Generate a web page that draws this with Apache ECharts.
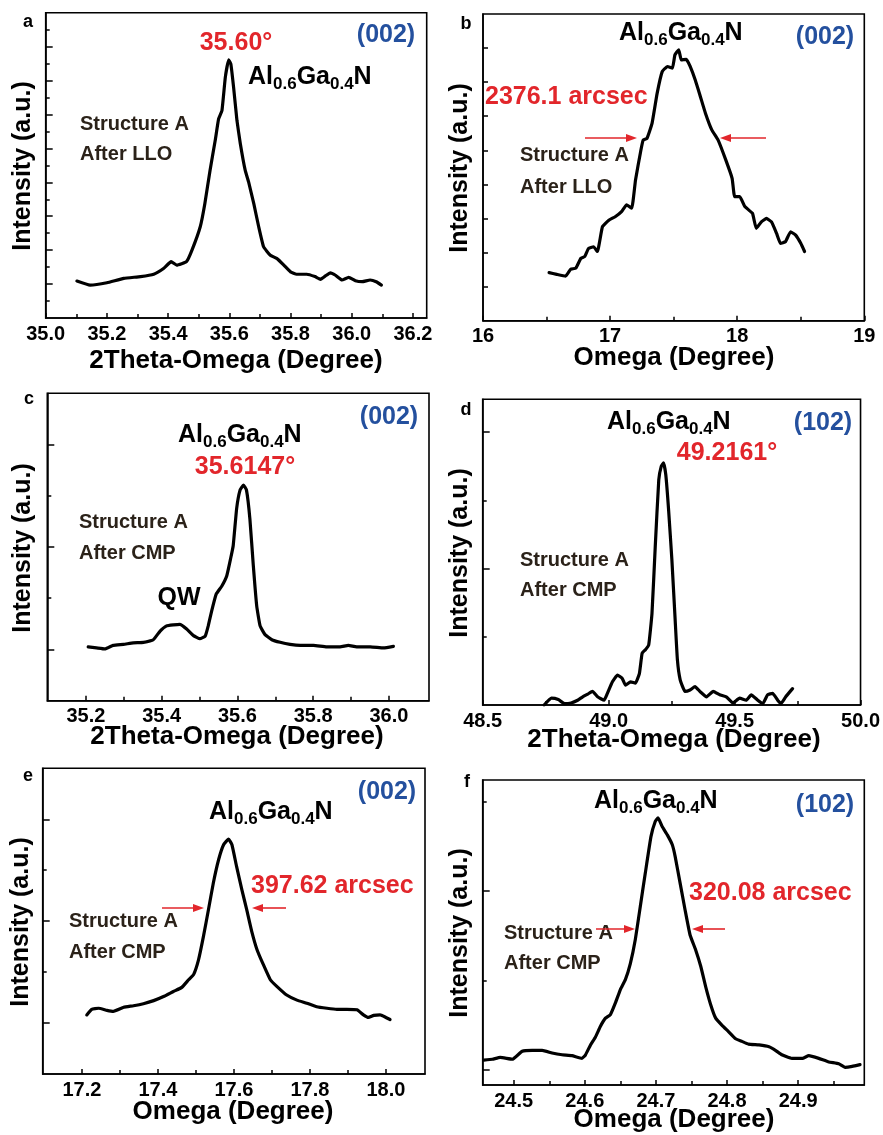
<!DOCTYPE html>
<html><head><meta charset="utf-8">
<script src="https://cdn.jsdelivr.net/npm/echarts@6/dist/echarts.min.js"></script>
<style>html,body{margin:0;padding:0;background:#fff}#c{width:883px;height:1135px}</style>
</head><body><div id="c"></div><script>
// ---------- data ----------
const aX = [35.102,35.145,35.2,35.255,35.31,35.353,35.385,35.41,35.428,35.46,35.478,35.505,35.52,35.537,35.554,35.565,35.576,35.587,35.598,35.605,35.614,35.625,35.636,35.652,35.663,35.68,35.696,35.712,35.734,35.756,35.778,35.8,35.82,35.853,35.88,35.898,35.914,35.93,35.947,35.968,35.99,36.012,36.034,36.06,36.08,36.097];
const aY = [1.09,0.97,1.04,1.17,1.22,1.29,1.46,1.66,1.56,1.66,2.0,2.69,3.37,4.35,5.24,5.87,6.12,7.1,7.61,7.49,6.8,5.82,5.14,4.35,4.01,3.37,2.69,2.1,1.85,1.75,1.56,1.36,1.29,1.29,1.22,1.14,1.24,1.33,1.26,1.12,1.2,1.1,1.07,1.12,1.07,0.97];

const bX = [16.52,16.58,16.65,16.69,16.73,16.77,16.8,16.83,16.87,16.9,16.94,16.99,17.04,17.09,17.13,17.17,17.2,17.24,17.26,17.29,17.33,17.37,17.41,17.45,17.49,17.51,17.54,17.56,17.6,17.63,17.67,17.71,17.75,17.8,17.85,17.91,17.96,17.98,18.02,18.06,18.12,18.15,18.19,18.23,18.27,18.31,18.34,18.38,18.42,18.46,18.5,18.53];
const bY = [1.41,1.36,1.31,1.51,1.54,1.83,1.88,2.12,2.17,2.03,2.76,2.95,3.05,3.2,3.4,3.3,4.13,4.96,5.3,5.35,5.79,6.67,7.31,7.46,7.41,7.8,7.95,7.65,7.67,7.46,7.06,6.58,6.09,5.6,5.3,4.72,4.18,3.64,3.64,3.35,3.15,2.71,2.9,3.0,2.9,2.56,2.27,2.32,2.61,2.51,2.27,2.03];

const cX = [35.206,35.228,35.25,35.272,35.299,35.325,35.352,35.378,35.396,35.413,35.431,35.448,35.466,35.484,35.501,35.515,35.523,35.532,35.544,35.559,35.572,35.582,35.589,35.598,35.607,35.616,35.624,35.633,35.642,35.651,35.66,35.673,35.691,35.713,35.739,35.766,35.801,35.836,35.871,35.893,35.915,35.951,35.986,36.012];
const cY = [1.05,1.03,1.01,1.08,1.1,1.13,1.14,1.19,1.36,1.46,1.48,1.49,1.4,1.27,1.21,1.26,1.46,1.75,2.08,2.24,2.44,2.77,3.03,3.75,4.11,4.21,4.11,3.55,2.64,1.85,1.46,1.29,1.19,1.14,1.1,1.08,1.08,1.05,1.05,1.08,1.05,1.05,1.03,1.06];

const dX = [48.744,48.773,48.8,48.825,48.851,48.877,48.897,48.917,48.936,48.956,48.982,48.995,49.015,49.035,49.054,49.067,49.087,49.106,49.122,49.133,49.146,49.159,49.172,49.185,49.199,49.209,49.218,49.227,49.238,49.251,49.264,49.273,49.284,49.303,49.323,49.343,49.362,49.389,49.415,49.441,49.467,49.493,49.52,49.546,49.566,49.592,49.612,49.631,49.651,49.671,49.684,49.703,49.73];
const dY = [0.0,0.1,0.08,0.02,0.03,0.07,0.12,0.16,0.2,0.12,0.07,0.17,0.34,0.44,0.39,0.29,0.34,0.32,0.46,0.76,0.81,0.88,1.34,2.32,3.3,3.5,3.55,3.37,2.86,2.13,1.25,0.66,0.37,0.2,0.22,0.27,0.2,0.12,0.2,0.15,0.12,0.03,0.1,0.07,0.15,0.07,0.02,0.15,0.17,0.07,0.02,0.12,0.24];

const eX = [17.213,17.226,17.244,17.266,17.283,17.31,17.336,17.362,17.389,17.415,17.441,17.463,17.481,17.494,17.507,17.52,17.533,17.546,17.56,17.573,17.586,17.595,17.607,17.621,17.634,17.647,17.661,17.678,17.696,17.713,17.739,17.766,17.792,17.818,17.845,17.871,17.897,17.924,17.941,17.954,17.968,17.985,18.0,18.011];
const eY = [1.16,1.27,1.29,1.25,1.23,1.31,1.34,1.38,1.44,1.52,1.62,1.7,1.85,1.95,2.24,2.7,3.22,3.75,4.21,4.5,4.61,4.5,4.08,3.62,3.22,2.8,2.44,2.14,1.85,1.72,1.55,1.45,1.39,1.32,1.29,1.27,1.27,1.26,1.16,1.11,1.15,1.16,1.11,1.07];

const fX = [24.458,24.47,24.481,24.498,24.512,24.526,24.54,24.554,24.568,24.582,24.596,24.601,24.608,24.615,24.622,24.629,24.636,24.643,24.65,24.657,24.664,24.671,24.678,24.685,24.693,24.699,24.703,24.709,24.716,24.723,24.727,24.734,24.741,24.748,24.756,24.763,24.77,24.777,24.784,24.793,24.802,24.812,24.821,24.83,24.845,24.859,24.868,24.877,24.891,24.906,24.915,24.929,24.943,24.957,24.966,24.976,24.987];
const fY = [0.11,0.12,0.14,0.12,0.21,0.22,0.22,0.19,0.17,0.16,0.13,0.17,0.28,0.37,0.49,0.58,0.62,0.75,0.9,1.01,1.19,1.46,1.83,2.2,2.61,2.78,2.82,2.72,2.63,2.52,2.39,2.09,1.79,1.51,1.34,1.16,0.93,0.73,0.58,0.5,0.43,0.35,0.32,0.29,0.28,0.26,0.22,0.17,0.13,0.13,0.16,0.13,0.09,0.07,0.03,0.04,0.06];

// tick labels / tick positions
const aXLabels = [35.0,35.2,35.4,35.6,35.8,36.0,36.2];
const aXMinor  = [35.1,35.3,35.5,35.7,35.9,36.1];
const bXLabels = [16,17,18,19];
const bXMinor  = [16.5,17.5,18.5];
const cXLabels = [35.2,35.4,35.6,35.8,36.0];
const cXMinor  = [35.3,35.5,35.7,35.9];
const dXLabels = [48.5,49.0,49.5,50.0];
const dXMinor  = [48.75,49.25,49.75];
const eXLabels = [17.2,17.4,17.6,17.8,18.0];
const eXMinor  = [17.3,17.5,17.7,17.9];
const fXLabels = [24.5,24.6,24.7,24.8,24.9];
const fXMinor  = [24.55,24.65,24.75,24.85,24.95];

const aYMajor = [1,2,3,4,5,6,7,8];
const aYMinor = [0.5,1.5,2.5,3.5,4.5,5.5,6.5,7.5,8.5];
const bYMajor = [1,2,3,4,5,6,7,8];
const bYMinor = [];
const cYMajor = [1,3,5];
const cYMinor = [2,4];
const dYMajor = [2,4];
const dYMinor = [1,3];
const eYMajor = [1,3,5];
const eYMinor = [2,4];
const fYMajor = [0,2];
const fYMinor = [1,3];

const xTitles = ['2Theta-Omega (Degree)','Omega (Degree)','2Theta-Omega (Degree)','2Theta-Omega (Degree)','Omega (Degree)','Omega (Degree)'];
const yTitle = 'Intensity (a.u.)';

// ---------- layout ----------
const FONT = '"Liberation Sans", Arial, Helvetica, sans-serif';
const RED = '#e2262b', BLUE = '#24509e', DARK = '#2b2219';

const panels = [
  {box:[45.7,12.7,381,305.3],   xr:[35.0,36.245], dec:1, xL:aXLabels, xM:aXMinor, yr:[0,9], yJ:aYMajor, yN:aYMinor, x:aX, y:aY, yLen:[7,4]},
  {box:[483,14,381.3,306.7],    xr:[16,19],       dec:0, xL:bXLabels, xM:bXMinor, yr:[0,9], yJ:bYMajor, yN:bYMinor, x:bX, y:bY, yLen:[5,3]},
  {box:[47.3,393.3,381.7,307.4],xr:[35.098,36.106],dec:1, xL:cXLabels, xM:cXMinor, yr:[0,6], yJ:cYMajor, yN:cYMinor, x:cX, y:cY, yLen:[7,4]},
  {box:[482.7,399.3,381.6,305.7],xr:[48.5,50.0],  dec:1, xL:dXLabels, xM:dXMinor, yr:[0,4.48], yJ:dYMajor, yN:dYMinor, x:dX, y:dY, yLen:[7,4]},
  {box:[42.7,768.3,382.3,305.7],xr:[17.097,18.103],dec:1, xL:eXLabels, xM:eXMinor, yr:[0,6], yJ:eYMajor, yN:eYMinor, x:eX, y:eY, yLen:[7,4]},
  {box:[482.7,780,381.6,305],   xr:[24.4564,24.993],dec:1, xL:fXLabels, xM:fXMinor, yr:[-0.168,3.244], yJ:fYMajor, yN:fYMinor, x:fX, y:fY, yLen:[7,4]}
];

const option = {animation:false, backgroundColor:'#fff', grid:[], xAxis:[], yAxis:[], series:[], graphic:[]};
const blk = {color:'#000', width:1.5};

panels.forEach((p,i)=>{
  option.grid.push({left:p.box[0], top:p.box[1], width:p.box[2], height:p.box[3], show:true, borderColor:'#000', borderWidth:1.6, backgroundColor:'transparent'});
  const xi = option.xAxis.length, yi = option.yAxis.length;
  option.xAxis.push({gridIndex:i, type:'value', min:p.xr[0], max:p.xr[1], position:'bottom',
    axisLine:{show:true, onZero:false, lineStyle:blk},
    axisTick:{show:true, inside:true, length:5, customValues:p.xL, lineStyle:blk},
    axisLabel:{show:true, customValues:p.xL, formatter:v=>Number(v).toFixed(p.dec), color:'#000', fontSize:20, fontWeight:'bold', fontFamily:FONT, margin:6},
    splitLine:{show:false}});
  option.xAxis.push({gridIndex:i, type:'value', min:p.xr[0], max:p.xr[1], position:'bottom',
    axisLine:{show:false, onZero:false},
    axisTick:{show:p.xM.length>0, inside:true, length:4, customValues:p.xM, lineStyle:blk},
    axisLabel:{show:false}, splitLine:{show:false}});
  option.yAxis.push({gridIndex:i, type:'value', min:p.yr[0], max:p.yr[1], position:'left',
    axisLine:{show:true, onZero:false, lineStyle:blk},
    axisTick:{show:true, inside:true, length:p.yLen[0], customValues:p.yJ, lineStyle:blk},
    axisLabel:{show:false}, splitLine:{show:false}});
  option.yAxis.push({gridIndex:i, type:'value', min:p.yr[0], max:p.yr[1], position:'left',
    axisLine:{show:false, onZero:false},
    axisTick:{show:p.yN.length>0, inside:true, length:p.yLen[1], customValues:p.yN.length?p.yN:[p.yr[0]], lineStyle:blk},
    axisLabel:{show:false}, splitLine:{show:false}});
  option.series.push({type:'line', xAxisIndex:xi, yAxisIndex:yi, data:p.x.map((v,k)=>[v,p.y[k]]),
    showSymbol:false, symbol:'none', smooth:0.12, silent:true, clip:true,
    lineStyle:{color:'#000', width:3.2, join:'round', cap:'round'}});
});

// ---------- annotations ----------
const G = option.graphic;
function txt(x,y,text,size,color,align){
  G.push({type:'text', x:x, y:y, silent:true, style:{text:text, fill:color, font:'bold '+size+'px '+FONT, textAlign:align||'left', textVerticalAlign:'middle'}});
}
function formula(x,y){
  G.push({type:'text', x:x, y:y, silent:true, style:{text:'{m|Al}{s|0.6}{m|Ga}{s|0.4}{m|N}', textAlign:'left', textVerticalAlign:'middle',
    rich:{m:{fill:'#000', fontSize:25, fontWeight:'bold', fontFamily:FONT},
          s:{fill:'#000', fontSize:17, fontWeight:'bold', fontFamily:FONT, padding:[14,0,0,0]}}}});
}
function arrow(x1,y,x2){
  const d = x2>x1?1:-1;
  G.push({type:'line', silent:true, shape:{x1:x1,y1:y,x2:x2-d*6,y2:y}, style:{stroke:RED, lineWidth:1.6}});
  G.push({type:'polygon', silent:true, shape:{points:[[x2,y],[x2-d*11,y-4],[x2-d*11,y+4]]}, style:{fill:RED}});
}
function ytitle(x,y){
  G.push({type:'text', x:x, y:y, rotation:Math.PI/2, silent:true, style:{text:yTitle, fill:'#000', font:'bold 25px '+FONT, textAlign:'center', textVerticalAlign:'middle'}});
}

// panel letters
txt(28,22,'a',18,'#000','center'); txt(466,24,'b',18,'#000','center');
txt(29,399,'c',18,'#000','center'); txt(466,410,'d',18,'#000','center');
txt(28,776,'e',18,'#000','center'); txt(467,782,'f',18,'#000','center');

// axis titles
const xt = [[236,361],[674,358],[237,737],[674,740],[233,1112],[674,1120]];
xt.forEach((c,i)=>txt(c[0],c[1],xTitles[i],26,'#000','center'));
ytitle(23,166); ytitle(460,168); ytitle(23,548); ytitle(460,553); ytitle(21,922); ytitle(460,933);

// a
txt(236,43,'35.60°',25,RED,'center'); formula(248,77); txt(386,35,'(002)',25,BLUE,'center');
txt(80,124,'Structure A',20,DARK); txt(80,154,'After LLO',20,DARK);
// b
formula(619,33); txt(825,37,'(002)',25,BLUE,'center'); txt(485,97,'2376.1 arcsec',25,RED);
arrow(585,138,637); arrow(766,138,720);
txt(520,155,'Structure A',20,DARK); txt(520,187,'After LLO',20,DARK);
// c
txt(389,417,'(002)',25,BLUE,'center'); formula(178,435); txt(245,467,'35.6147°',25,RED,'center');
txt(79,522,'Structure A',20,DARK); txt(79,553,'After CMP',20,DARK); txt(179,598,'QW',25,'#000','center');
// d
formula(607,422); txt(823,423,'(102)',25,BLUE,'center'); txt(727,453,'49.2161°',25,RED,'center');
txt(520,560,'Structure A',20,DARK); txt(520,590,'After CMP',20,DARK);
// e
txt(387,792,'(002)',25,BLUE,'center'); formula(209,812); txt(251,886,'397.62 arcsec',25,RED);
arrow(162,908,204); arrow(286,908,252);
txt(69,921,'Structure A',20,DARK); txt(69,952,'After CMP',20,DARK);
// f
formula(594,801); txt(825,805,'(102)',25,BLUE,'center'); txt(689,893,'320.08 arcsec',25,RED);
txt(504,933,'Structure A',20,DARK); txt(504,963,'After CMP',20,DARK);
arrow(596,929,635); arrow(725,929,692);

const chart = echarts.init(document.getElementById('c'), null, {renderer:'canvas'});
chart.setOption(option);
</script></body></html>
